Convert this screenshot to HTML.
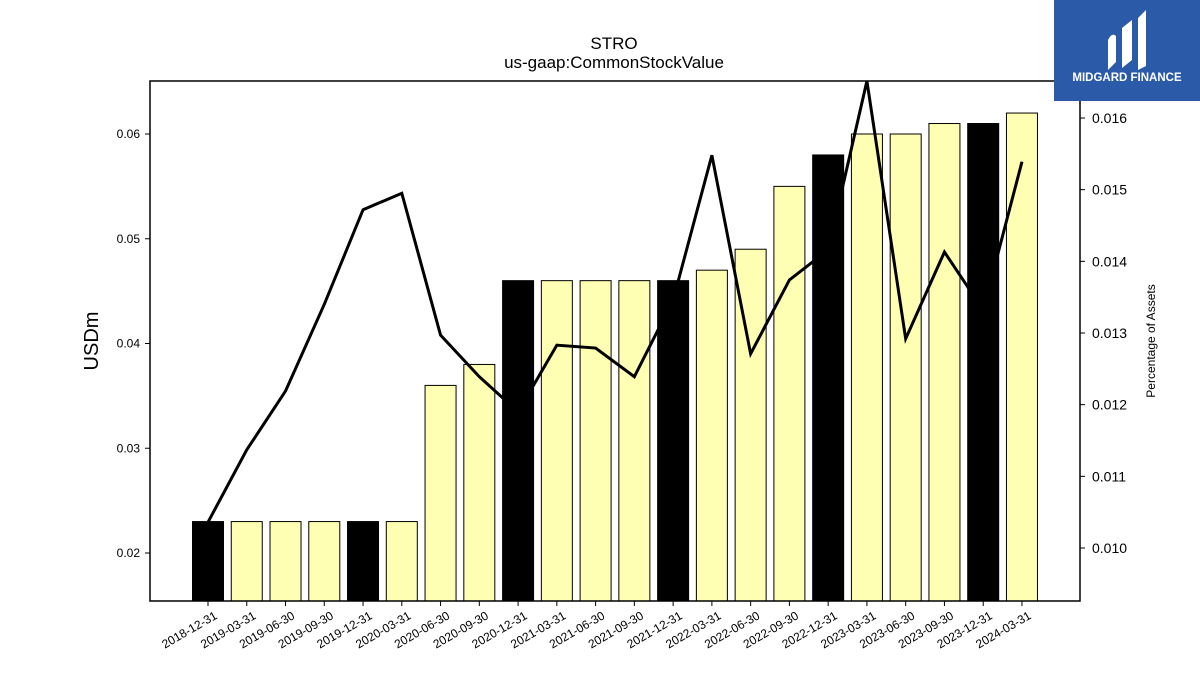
<!DOCTYPE html>
<html><head><meta charset="utf-8"><style>
body{margin:0;background:#fff;}
svg{display:block;font-family:"Liberation Sans","DejaVu Sans",sans-serif;}
</style></head><body>
<svg id="chart" width="1200" height="675" viewBox="0 0 1200 675">
<rect width="1200" height="675" fill="#fff"/>
<text x="614" y="49" text-anchor="middle" font-size="17">STRO</text>
<text x="614" y="68" text-anchor="middle" font-size="17">us-gaap:CommonStockValue</text>
<g id="bars"></g>
<polyline id="line" fill="none" stroke="#000" stroke-width="3"/>
<rect x="150" y="81" width="930" height="520" fill="none" stroke="#000" stroke-width="1.5"/>
<g id="axes"></g>
<text transform="translate(98,341) rotate(-90)" text-anchor="middle" font-size="20">USDm</text>
<text transform="translate(1155,341) rotate(-90)" text-anchor="middle" font-size="12">Percentage of Assets</text>
<g>
<rect x="1054" y="0" width="146" height="101" fill="#2b5aa8"/>
<path d="M1108 70 L1108 40 Q1112 32 1116 36 L1116 62 Z M1122 68 L1122 28 L1132 20 L1132 60 Z M1138 70 L1138 18 L1146 10 L1146 66 Z" fill="#fff"/>
<text x="1127" y="81" text-anchor="middle" font-size="11.5" font-weight="bold" fill="#fff">MIDGARD FINANCE</text>
</g>
</svg>
<script>
const categories=["2018-12-31","2019-03-31","2019-06-30","2019-09-30","2019-12-31","2020-03-31","2020-06-30","2020-09-30","2020-12-31","2021-03-31","2021-06-30","2021-09-30","2021-12-31","2022-03-31","2022-06-30","2022-09-30","2022-12-31","2023-03-31","2023-06-30","2023-09-30","2023-12-31","2024-03-31"];
const barValues=[0.023,0.023,0.023,0.023,0.023,0.023,0.036,0.038,0.046,0.046,0.046,0.046,0.046,0.047,0.049,0.055,0.058,0.060,0.060,0.061,0.061,0.062];
const pctValues=[0.01036,0.01137,0.01219,0.0134,0.01472,0.01495,0.01297,0.01239,0.0119,0.01283,0.01279,0.01239,0.01346,0.01548,0.01271,0.01374,0.01416,0.01667,0.01292,0.01413,0.01332,0.01539];
const leftTicks=[0.02,0.03,0.04,0.05,0.06];
const rightTicks=[0.010,0.011,0.012,0.013,0.014,0.015,0.016];
const NS="http://www.w3.org/2000/svg";
const yL=v=>553-(v-0.02)*10475;
const yR=v=>548-(v-0.010)*71667;
const xC=i=>208+i*38.76;
const bars=document.getElementById('bars'),axes=document.getElementById('axes');
function mk(t,a,p){const e=document.createElementNS(NS,t);for(const k in a)e.setAttribute(k,a[k]);p.appendChild(e);return e;}
categories.forEach((c,i)=>{
 const y=yL(barValues[i]);
 const r=mk('rect',{x:xC(i)-15.5,y:y,width:31,height:601-y,fill:(i%4===0)?'#000':'#ffffb3',stroke:'#000','stroke-width':1},bars);
 
 
 mk('line',{x1:xC(i),x2:xC(i),y1:601,y2:606,stroke:'#000'},axes);
 const t=mk('text',{transform:`translate(${xC(i)+10},${618}) rotate(-30)`,'text-anchor':'end','font-size':12},axes);
 t.textContent=c;
 
 
});
document.getElementById('line').setAttribute('points',pctValues.map((v,i)=>xC(i)+','+Math.max(81,yR(v))).join(' '));
leftTicks.forEach(v=>{
 mk('line',{x1:145,x2:150,y1:yL(v),y2:yL(v),stroke:'#000'},axes);
 const t=mk('text',{x:140,y:yL(v)+4,'text-anchor':'end','font-size':12},axes);
 t.textContent=v.toFixed(2);
 
 
});
rightTicks.forEach(v=>{
 mk('line',{x1:1080,x2:1085,y1:yR(v),y2:yR(v),stroke:'#000'},axes);
 const t=mk('text',{x:1092,y:yR(v)+5,'font-size':14},axes);
 t.textContent=v.toFixed(3);
 
 
});
</script>
</body></html>
